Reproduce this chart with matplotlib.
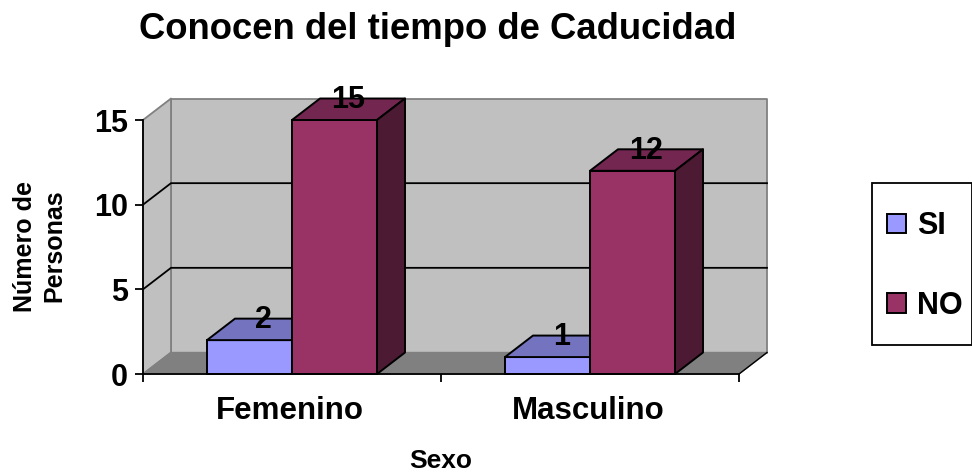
import numpy as np
import matplotlib
matplotlib.use("Agg")
import matplotlib.pyplot as plt
from matplotlib.patches import Patch, Polygon, Rectangle
from matplotlib.transforms import ScaledTranslation

plt.rcParams['font.family'] = ['Liberation Sans', 'DejaVu Sans']
plt.rcParams['font.weight'] = 'bold'

# Data
categories = ["Femenino", "Masculino"]
si_values = [2, 1]
no_values = [15, 12]
y_ticks = [0, 5, 10, 15]

W, H = 972, 473
fig = plt.figure(figsize=(W / 100, H / 100), dpi=100)
# axes = front plane of the 3D box
ax = fig.add_axes([143 / W, 1 - 374 / H, (739 - 143) / W, (374 - 120) / H])
ax.set_xlim(0, 2)
ax.set_ylim(0, 15)
ax.patch.set_visible(False)

# depth of the fake 3D box, in data units
dx = 28 / 298
dy = 21.5 / (254 / 15)
bar_w = 85 / 298


def poly(pts, color, edge, lw=1.3, z=1):
    ax.add_patch(Polygon(pts, closed=True, facecolor=color, edgecolor=edge,
                         linewidth=lw, zorder=z, clip_on=False, joinstyle='round'))


# walls and floor
poly([(dx, dy), (2 + dx, dy), (2 + dx, 15 + dy), (dx, 15 + dy)], '#C0C0C0', '#808080', 1.3, 1)
poly([(0, 0), (dx, dy), (dx, 15 + dy), (0, 15)], '#C0C0C0', '#808080', 1.3, 1)
poly([(0, 0), (2, 0), (2 + dx, dy), (dx, dy)], '#808080', '#808080', 1.0, 1)
ax.plot([2, 2 + dx], [0, dy], color='black', lw=1.0, zorder=2, clip_on=False)

# gridlines on side wall and back wall
for v in y_ticks[1:-1]:
    ax.plot([0, dx, 2 + dx], [v, v + dy, v + dy], color='black', lw=1.3, zorder=2, clip_on=False)


def bar3d(left, value, front, top, side, z):
    ax.bar(left, value, width=bar_w, align='edge', color=front, edgecolor='black',
           linewidth=1.4, zorder=z, clip_on=False)
    r = left + bar_w
    poly([(left, value), (r, value), (r + dx, value + dy), (left + dx, value + dy)], top, 'black', 1.4, z)
    poly([(r, 0), (r + dx, dy), (r + dx, value + dy), (r, value)], side, 'black', 1.4, z)


centers = np.arange(len(categories)) + 0.5
for i, c in enumerate(centers):
    bar3d(c - bar_w, si_values[i], '#9999FF', '#7373BF', '#4D4D80', 3 + i)
    bar3d(c, no_values[i], '#993366', '#732650', '#4D1A33', 3.5 + i)
    for left, v in ((c - bar_w, si_values[i]), (c, no_values[i])):
        ax.text(left + bar_w / 2 + dx / 2, v + dy - 0.08, str(v), ha='center', va='center',
                fontsize=22, fontweight='bold', color='black', zorder=6, clip_on=False)

# axes
for s in ('top', 'right'):
    ax.spines[s].set_visible(False)
for s in ('left', 'bottom'):
    ax.spines[s].set_linewidth(1.3)
    ax.spines[s].set_zorder(7)
ax.set_yticks(y_ticks)
ax.set_xticks([0, 1, 2], labels=[])
ax.set_xticks(centers, labels=categories, minor=True)
ax.tick_params(axis='y', labelsize=22, length=6, width=1.3, pad=5)
ax.tick_params(axis='x', which='major', length=6, width=1.3)
ax.tick_params(axis='x', which='minor', length=0, labelsize=22.5, pad=16)
for lab in ax.get_xticklabels(minor=True):
    lab.set_transform(lab.get_transform() + ScaledTranslation(-2 / 100, 0, fig.dpi_scale_trans))

fig.text(441 / W, 1 - 460.5 / H, "Sexo", ha='center', va='center', fontsize=19,
         fontweight='bold')
fig.text(39.5 / W, 1 - 246 / H, "Número de\nPersonas", ha='center', va='center', rotation=90,
         fontsize=18, fontweight='bold', linespacing=1.28)
fig.text(438 / W, 1 - 29.5 / H, "Conocen del tiempo de Caducidad", ha='center', va='center',
         fontsize=26.3, fontweight='bold')

# legend, frame drawn apart so its box can be sized freely
fig.add_artist(Rectangle((872 / W, 1 - 345 / H), 100 / W, 162 / H, transform=fig.transFigure,
                         facecolor='white', edgecolor='black', linewidth=1.3, clip_on=False))
handles = [Patch(facecolor='#9999FF', edgecolor='black', linewidth=1.4),
           Patch(facecolor='#993366', edgecolor='black', linewidth=1.4)]
leg = fig.legend(handles, ["SI", "NO"], loc='center left', bbox_to_anchor=(887 / W, 1 - 266 / H),
                 fontsize=22, frameon=False, handlelength=0.62, handleheight=0.62,
                 handletextpad=0.35, labelspacing=1.62, borderpad=0, borderaxespad=0)

plt.savefig("out.png", dpi=100)
